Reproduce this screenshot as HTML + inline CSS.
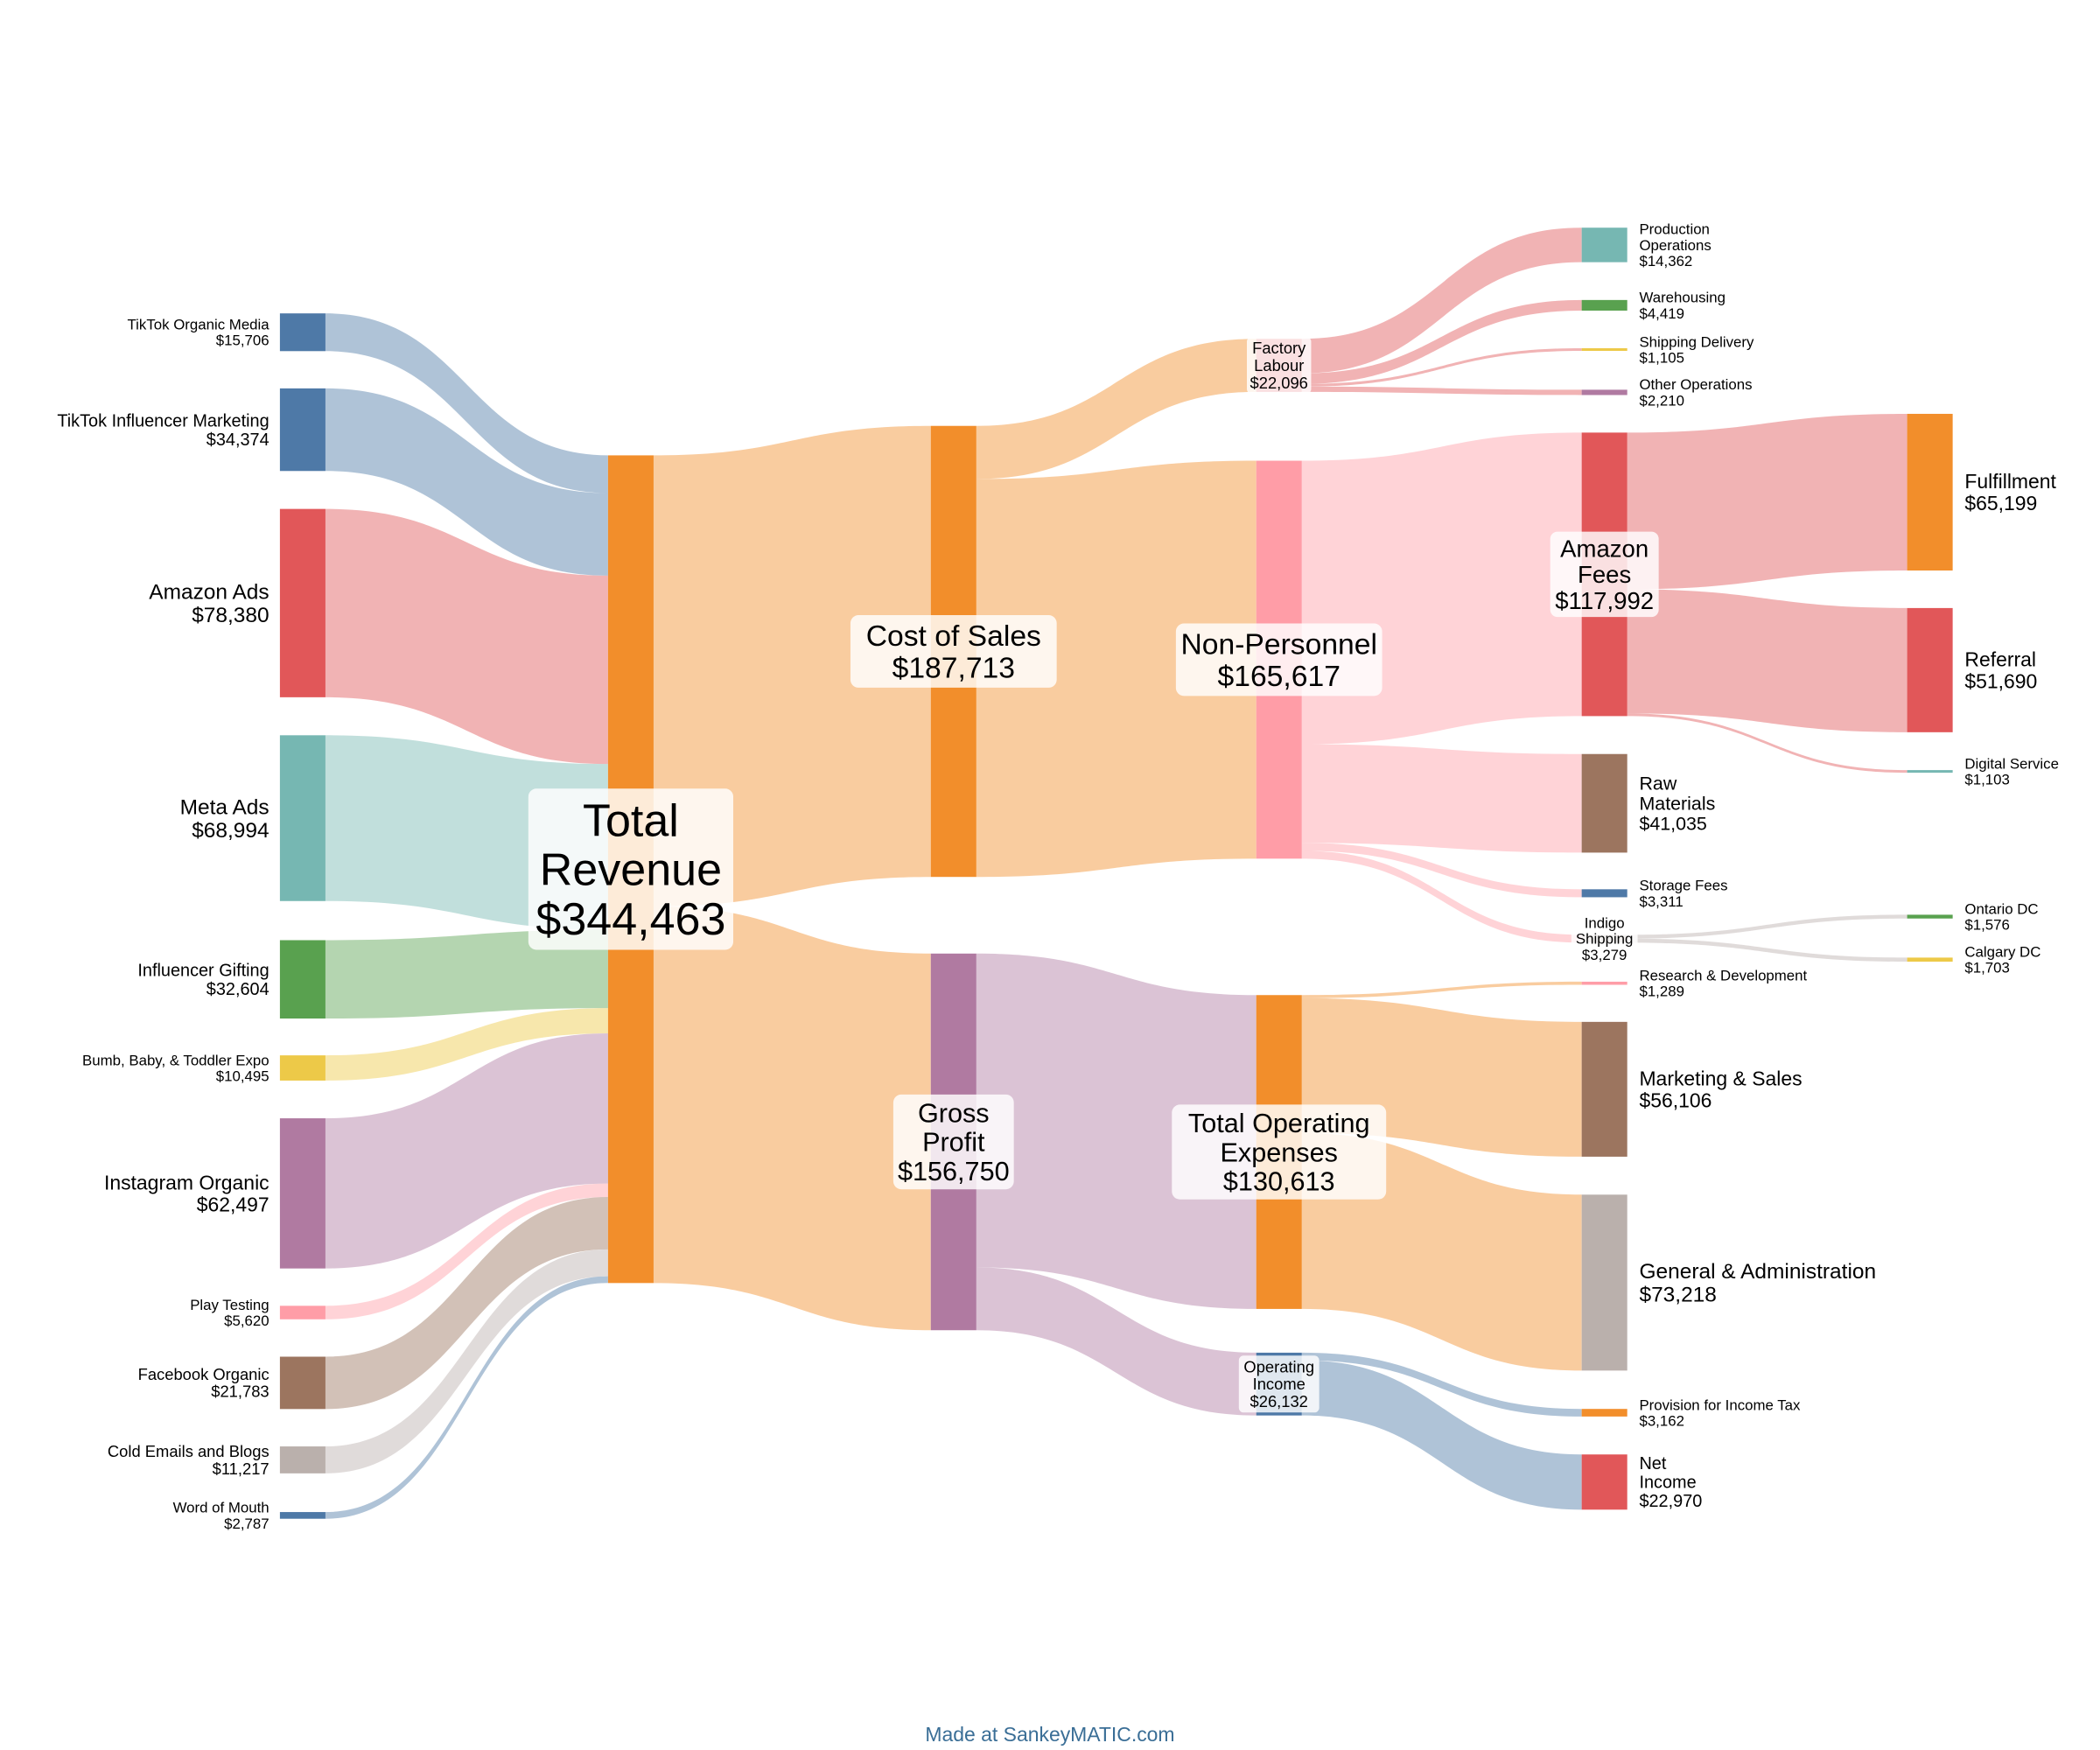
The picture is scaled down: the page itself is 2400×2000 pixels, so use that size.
<!DOCTYPE html>
<html><head><meta charset="utf-8"><title>Sankey</title>
<style>
html,body{margin:0;padding:0;background:#fff;}
svg{display:block;font-family:"Liberation Sans",Arial,sans-serif;}
</style></head>
<body>
<svg id="chart" width="2400" height="2000" viewBox="0 0 1568 1306.67" preserveAspectRatio="none" xmlns="http://www.w3.org/2000/svg">
<g id="flows"></g>
<g id="nodes"></g>
<g id="labels"></g>
<text x="784" y="1300" text-anchor="middle" font-size="15" fill="#3a6e96">Made at SankeyMATIC.com</text>
</svg>
<script>
// ---- data ----
const nodeNames = ["TikTok Organic Media","TikTok Influencer Marketing","Amazon Ads","Meta Ads","Influencer Gifting","Bumb, Baby, & Toddler Expo","Instagram Organic","Play Testing","Facebook Organic","Cold Emails and Blogs","Word of Mouth",
"Total Revenue","Cost of Sales","Gross Profit","Factory Labour","Non-Personnel","Total Operating Expenses","Operating Income",
"Production Operations","Warehousing","Shipping Delivery","Other Operations","Amazon Fees","Raw Materials","Storage Fees","Indigo Shipping","Research & Development","Marketing & Sales","General & Administration","Provision for Income Tax","Net Income",
"Fulfillment","Referral","Digital Service","Ontario DC","Calgary DC"];
const linkSource = [0,1,2,3,4,5,6,7,8,9,10, 11,11, 12,12, 13,13, 14,14,14,14, 15,15,15,15, 16,16,16, 17,17, 22,22,22, 25,25];
const linkTarget = [11,11,11,11,11,11,11,11,11,11,11, 12,13, 14,15, 16,17, 18,19,20,21, 22,23,24,25, 26,27,28, 29,30, 31,32,33, 34,35];
const linkValue = [15706,34374,78380,68994,32604,10495,62497,5620,21783,11217,2787, 187713,156750, 22096,165617, 130613,26132, 14362,4419,1105,2210, 117992,41035,3311,3279, 1289,56106,73218, 3162,22970, 65199,51690,1103, 1576,1703];

// ---- layout (not data) ----
const C=["#4e79a7","#f28e2b","#e15759","#76b7b2","#59a14f","#edc948","#b07aa1","#ff9da7","#9c755f","#bab0ac"];
const nodeColor=[C[0],C[0],C[2],C[3],C[4],C[5],C[6],C[7],C[8],C[9],C[0], C[1],C[1],C[6],C[2],C[7],C[1],C[0], C[3],C[4],C[5],C[6],C[2],C[8],C[0],C[9],C[7],C[8],C[9],C[1],C[2], C[1],C[2],C[3],C[4],C[5]];
const nodeCol=[0,0,0,0,0,0,0,0,0,0,0, 1,2,2,3,3,3,3, 4,4,4,4,4,4,4,4,4,4,4,4,4, 5,5,5,5,5];
const nodeTop=[234,290,380,549,702,788,835,975,1013,1080,1129, 340,318,712,253,344,743,1010, 170,224,260,291,323,563,664,698,733,763,892,1052,1086, 309,454,575,683,715];
const nodeLabel=[["l",11,["TikTok Organic Media"]],["l",13,["TikTok Influencer Marketing"]],["l",16,["Amazon Ads"]],["l",16,["Meta Ads"]],["l",13,["Influencer Gifting"]],["l",11,["Bumb, Baby, & Toddler Expo"]],["l",15,["Instagram Organic"]],["l",11,["Play Testing"]],["l",12,["Facebook Organic"]],["l",12,["Cold Emails and Blogs"]],["l",11,["Word of Mouth"]],
["c",34,["Total","Revenue"]],["c",22,["Cost of Sales"]],["c",20,["Gross","Profit"]],["c",12,["Factory","Labour"]],["c",22,["Non-Personnel"]],["c",20,["Total Operating","Expenses"]],["c",12,["Operating","Income"]],
["r",11,["Production","Operations"]],["r",11,["Warehousing"]],["r",11,["Shipping Delivery"]],["r",11,["Other Operations"]],["c",18,["Amazon","Fees"]],["r",14,["Raw","Materials"]],["r",11,["Storage Fees"]],["c",11,["Indigo","Shipping"]],["r",11,["Research & Development"]],["r",15,["Marketing & Sales"]],["r",16,["General & Administration"]],["r",11,["Provision for Income Tax"]],["r",13,["Net","Income"]],
["r",15,["Fulfillment"]],["r",15,["Referral"]],["r",11,["Digital Service"]],["r",11,["Ontario DC"]],["r",11,["Calgary DC"]]];
const colX=[209,454,695,938,1181,1424], NW=34;
const totalH=618, refTotal=344463;
const k=totalH/refTotal;
const NS="http://www.w3.org/2000/svg";

const N=nodeNames.length;
const inSum=new Array(N).fill(0), outSum=new Array(N).fill(0);
linkValue.forEach((v,i)=>{outSum[linkSource[i]]+=v;inSum[linkTarget[i]]+=v;});
const nodeVal=nodeNames.map((_,i)=>Math.max(inSum[i],outSum[i]));
const yScale=v=>v*k;
const outOff=new Array(N).fill(0), inOff=new Array(N).fill(0);

const gF=document.getElementById('flows'),gN=document.getElementById('nodes'),gL=document.getElementById('labels');
function mk(tag,attrs){const e=document.createElementNS(NS,tag);for(const a in attrs)e.setAttribute(a,attrs[a]);return e;}
const slug=s=>s.toLowerCase().replace(/[^a-z0-9]+/g,'-').replace(/^-|-$/g,'');

linkValue.forEach((v,i)=>{
  const s=linkSource[i],t=linkTarget[i],h=yScale(v);
  const x0=colX[nodeCol[s]]+NW,x1=colX[nodeCol[t]];
  const y0=nodeTop[s]+outOff[s],y1=nodeTop[t]+inOff[t];
  outOff[s]+=h;inOff[t]+=h;
  const xm=(x0+x1)/2;
  const d=`M${x0},${y0} C${xm},${y0} ${xm},${y1} ${x1},${y1} L${x1},${y1+h} C${xm},${y1+h} ${xm},${y0+h} ${x0},${y0+h} Z`;
  const p=mk('path',{d:d,fill:nodeColor[s],'fill-opacity':0.45});
  
  
  gF.appendChild(p);
});

const fmt=v=>'$'+v.toLocaleString('en-US');
nodeNames.forEach((name,i)=>{
  const x=colX[nodeCol[i]],y=nodeTop[i],h=Math.max(yScale(nodeVal[i]),1);
  const r=mk('rect',{x:x,y:y,width:NW,height:h,fill:nodeColor[i]});
  
  
  gN.appendChild(r);
  const [mode,fs,lines]=nodeLabel[i];
  const all=lines.concat([fmt(nodeVal[i])]);
  const lh=fs*1.08, cy=y+h/2, startY=cy-(all.length-1)*lh/2+fs*0.35;
  let tx,anchor;
  if(mode==='l'){tx=x-8;anchor='end';}
  else if(mode==='r'){tx=x+NW+9;anchor='start';}
  else{tx=x+NW/2;anchor='middle';}
  const g=mk('g',{});
  
  
  if(mode==='c'){
    const maxLen=Math.max(...all.map(s=>s.length));
    const w=maxLen*fs*0.5+fs*0.5, bh=all.length*lh+fs*0.3;
    const b=mk('rect',{x:tx-w/2,y:cy-bh/2,width:w,height:bh,rx:Math.min(6,fs*0.3),fill:'#fff','fill-opacity':0.82});
    
    
    g.appendChild(b);
  }
  all.forEach((s,j)=>{
    const t=mk('text',{x:tx,y:startY+j*lh,'text-anchor':anchor,'font-size':fs,fill:'#000'});
    t.textContent=s;
    
    
    g.appendChild(t);
  });
  gL.appendChild(g);
});
</script>
</body></html>
